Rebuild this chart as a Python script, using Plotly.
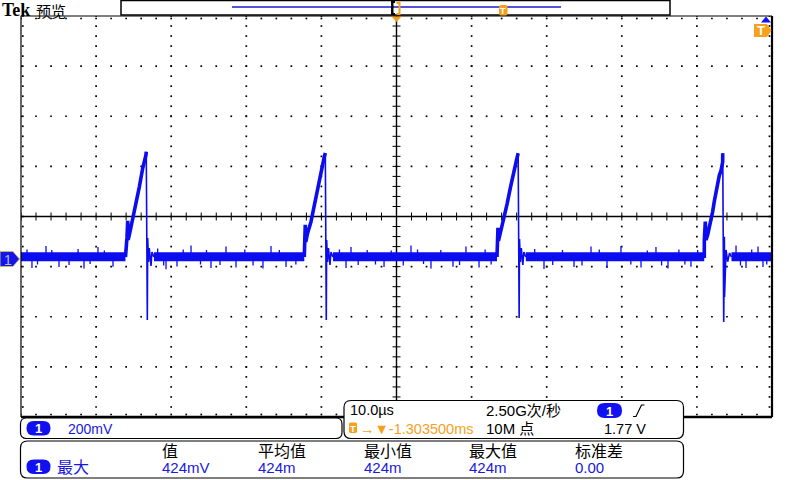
import numpy as np
import plotly.graph_objects as go

TIME_PER_DIV_US = 10.0          # 10.0 µs/div
VOLT_PER_DIV = 0.2              # 200 mV/div
GROUND_OFFSET_DIV = 0.828       # ground marker sits 0.83 div below centre

BASE_LEVEL = 0.005
BAND_WIDTH_V = 0.036
baseline_start = [-50.0, -32.29, -8.46, 17.22, 44.60]
baseline_end = [-36.09, -12.28, 13.38, 40.98, 50.0]

pulse1_t = [-36.09, -36.02, -35.89, -35.79, -35.73, -35.49, -35.13, -34.69, -34.25,
            -33.79, -33.58, -33.36, -33.32, -33.18, -33.13, -33.02, -32.92, -32.69,
            -32.56, -32.29]
pulse1_v = [0.004, 0.064, 0.080, 0.148, 0.072, 0.104, 0.152, 0.219, 0.283,
            0.359, 0.379, 0.411, 0.424, -0.247, 0.080, -0.016, 0.040, -0.032,
            0.024, 0.004]

pulse2_t = [-12.28, -12.21, -12.15, -12.08, -11.83, -11.39, -10.95, -10.49, -10.05,
            -9.83, -9.62, -9.48, -9.35, -9.30, -9.19, -9.06, -8.86, -8.72, -8.46]
pulse2_v = [0.004, 0.072, 0.132, 0.064, 0.100, 0.144, 0.211, 0.279, 0.351,
            0.379, 0.403, 0.419, -0.247, 0.072, -0.016, 0.040, -0.028, 0.024, 0.004]

pulse3_t = [13.38, 13.45, 13.51, 13.58, 13.85, 14.28, 14.72, 15.18, 15.62,
            15.84, 16.06, 16.20, 16.33, 16.38, 16.49, 16.62, 16.82, 16.96, 17.22]
pulse3_v = [0.004, 0.060, 0.120, 0.068, 0.100, 0.148, 0.215, 0.283, 0.351,
            0.379, 0.401, 0.418, -0.239, 0.076, -0.016, 0.040, -0.028, 0.024, 0.004]

pulse4_t = [40.98, 40.99, 41.12, 41.21, 41.43, 41.65, 41.88, 42.10, 42.31, 42.54,
            42.76, 42.98, 43.21, 43.43, 43.44, 43.57, 43.66, 43.68, 43.88, 44.10,
            44.35, 44.60]
pulse4_v = [0.000, 0.072, 0.145, 0.072, 0.092, 0.120, 0.152, 0.185, 0.225, 0.265,
            0.290, 0.329, 0.349, 0.383, 0.418, -0.255, 0.085, -0.155, 0.032, -0.015,
            0.020, 0.004]

# larger noise spikes on the baseline
spike_t = [-48.54, -46.67, -44.94, -41.61, -39.75, -37.75, -30.69, -29.23, -27.36,
           -24.70, -22.70, -21.37, -17.78, -16.71, -14.71, -6.72, -6.06, -1.66,
           1.93, 4.59, 7.52, 9.25, 10.99, 19.64, 23.64, 25.90, 28.03, 29.89,
           32.56, 34.55, 36.15, 39.21, 45.21, 46.54, 48.14, 48.80]
spike_v = [-0.040, 0.048, -0.036, -0.042, 0.044, -0.035, -0.045, -0.034, 0.050,
           -0.040, 0.046, -0.038, -0.042, 0.048, -0.036, -0.040, 0.044, -0.036,
           0.050, -0.042, -0.035, 0.046, -0.038, -0.044, -0.036, 0.046, -0.040, 0.048,
           -0.038, 0.044, -0.042, -0.035, 0.050, -0.040, 0.046, -0.036]
# small jitter ticks on the baseline band
jitter_t = [-49.2, -47.8, -45.9, -43.6, -42.4, -40.8, -38.9, -31.8, -31.0, -28.4,
            -26.1, -25.3, -23.5, -20.2, -19.1, -15.6, -13.4, -7.6, -5.1, -3.9,
            -2.8, -0.7, 0.9, 2.8, 3.6, 5.9, 8.4, 11.8, 12.6, 18.4, 20.8, 22.1,
            24.7, 27.0, 31.2, 33.4, 35.3, 37.6, 38.4, 40.1, 45.8, 47.3, 49.3]
jitter_v = [0.034, -0.026, 0.032, -0.028, 0.036, -0.024, 0.030, 0.038, -0.030, 0.034,
            -0.026, 0.032, -0.028, 0.034, -0.030, 0.032, -0.026, 0.034, -0.028, 0.032,
            -0.026, 0.030, -0.030, 0.034, -0.024, 0.032, -0.028, 0.034, -0.026, 0.036,
            -0.028, 0.032, -0.030, 0.034, -0.026, 0.030, -0.030, 0.034, -0.026, 0.032,
            -0.030, 0.034, -0.026]

ch_scale_label = "200mV"
timebase_label = "10.0µs"
trigger_pos_label = "→▼-1.303500ms"
sample_rate_label = "2.50G次/秒"
record_len_label = "10M 点"
trigger_level_label = "1.77 V"
meas_name = "最大"
meas_headers = ["值", "平均值", "最小值", "最大值", "标准差"]
meas_values = ["424mV", "424m", "424m", "424m", "0.00"]

# ---------------- geometry ----------------
W, H = 800, 480
L, T, PW, PH = 21, 16, 751, 401
BLUE = "#0c0cf0"
TXTBLUE = "#1818e0"
ORANGE = "#f7a01c"
FONT = "Liberation Sans, Noto Sans CJK SC"

center_v = GROUND_OFFSET_DIV * VOLT_PER_DIV
y_lo, y_hi = center_v - 4 * VOLT_PER_DIV, center_v + 4 * VOLT_PER_DIV
x_lo, x_hi = -5 * TIME_PER_DIV_US, 5 * TIME_PER_DIV_US
vpp = PH / (y_hi - y_lo)   # px per volt
tpp = PW / (x_hi - x_lo)   # px per µs


def px(x):
    return (x - L) / PW


def py(y):
    return (T + PH - y) / PH


def path(points, close=True):
    s = "M " + " L ".join(f"{px(x):.5f},{py(y):.5f}" for x, y in points)
    return s + (" Z" if close else "")


def rrect(x0, y0, x1, y1, r):
    P = lambda x, y: f"{px(x):.5f},{py(y):.5f}"
    return (f"M {P(x0+r,y0)} L {P(x1-r,y0)} Q {P(x1,y0)} {P(x1,y0+r)} "
            f"L {P(x1,y1-r)} Q {P(x1,y1)} {P(x1-r,y1)} L {P(x0+r,y1)} "
            f"Q {P(x0,y1)} {P(x0,y1-r)} L {P(x0,y0+r)} Q {P(x0,y0)} {P(x0+r,y0)} Z")


fig = go.Figure()

# ---------------- graticule ----------------
minor_t = np.arange(x_lo, x_hi + 1e-9, TIME_PER_DIV_US / 5)
minor_v = center_v + np.arange(-20, 21) * VOLT_PER_DIV / 5
gx, gy = [], []
for k in range(-4, 5):
    if k == 0:
        continue
    gx += [k * TIME_PER_DIV_US] * len(minor_v)
    gy += list(minor_v)
for j in range(-3, 4):
    if j == 0:
        continue
    gx += list(minor_t)
    gy += [center_v + j * VOLT_PER_DIV] * len(minor_t)
# edge dots
gx += list(minor_t); gy += [y_hi - 2.5 / vpp] * len(minor_t)
gx += list(minor_t); gy += [y_lo + 2.5 / vpp] * len(minor_t)
gx += [x_lo + 1.8 / tpp] * len(minor_v); gy += list(minor_v)
gx += [x_hi - 2.5 / tpp] * len(minor_v); gy += list(minor_v)
fig.add_trace(go.Scatter(x=gx, y=gy, mode="markers", hoverinfo="skip",
                         marker=dict(symbol="square", size=1.7, color="#000",
                                     line=dict(width=0))))

# centre axes with ticks
fig.add_trace(go.Scatter(x=[x_lo, x_hi, None, 0, 0], y=[center_v, center_v, None, y_lo, y_hi],
                         mode="lines", line=dict(color="#000", width=1.4), hoverinfo="skip"))
tx, ty = [], []
for t in minor_t:
    tx += [t, t, None]
    ty += [center_v - 4 / vpp, center_v + 4 / vpp, None]
for v in minor_v:
    tx += [-4 / tpp, 4 / tpp, None]
    ty += [v, v, None]
fig.add_trace(go.Scatter(x=tx, y=ty, mode="lines", line=dict(color="#000", width=1),
                         hoverinfo="skip"))

# ---------------- signal ----------------
bx, by = [], []
for a, b in zip(baseline_start, baseline_end):
    bx += [a, b, None]
    by += [BASE_LEVEL, BASE_LEVEL, None]
fig.add_trace(go.Scatter(x=bx, y=by, mode="lines", hoverinfo="skip",
                         line=dict(color=BLUE, width=BAND_WIDTH_V * vpp)))
sx, sy = [], []
for t, v in zip(spike_t + jitter_t, spike_v + jitter_v):
    sx += [t, t, None]
    sy += [BASE_LEVEL, v, None]
fig.add_trace(go.Scatter(x=sx, y=sy, mode="lines", hoverinfo="skip",
                         line=dict(color=BLUE, width=1.3)))
for pt, pv in [(pulse1_t, pulse1_v), (pulse2_t, pulse2_v), (pulse3_t, pulse3_v),
               (pulse4_t, pulse4_v)]:
    ip = int(np.argmax(pv))
    fig.add_trace(go.Scatter(x=pt[:ip + 1], y=pv[:ip + 1], mode="lines", hoverinfo="skip",
                             line=dict(color=BLUE, width=3.6)))
    fig.add_trace(go.Scatter(x=pt[ip:], y=pv[ip:], mode="lines", hoverinfo="skip",
                             line=dict(color=BLUE, width=1.6)))

shapes = []
ann = []

# plot border
shapes += [
    dict(type="line", xref="paper", yref="paper", x0=0, x1=1, y0=1, y1=1, line=dict(color="#000", width=1.2)),
    dict(type="line", xref="paper", yref="paper", x0=0, x1=0, y0=0, y1=1, line=dict(color="#000", width=1.2)),
    dict(type="line", xref="paper", yref="paper", x0=1, x1=1, y0=0, y1=1, line=dict(color="#000", width=2.2)),
    dict(type="line", xref="paper", yref="paper", x0=0, x1=1, y0=0, y1=0, line=dict(color="#000", width=2.5)),
]

# top bar
shapes.append(dict(type="rect", xref="paper", yref="paper", x0=px(121), x1=px(670), y0=py(15), y1=py(0.5),
                   line=dict(color="#000", width=1.5), fillcolor="#fff"))
shapes.append(dict(type="line", xref="paper", yref="paper", x0=px(232), x1=px(561), y0=py(7), y1=py(7),
                   line=dict(color="#1a1ad0", width=1.5)))
shapes.append(dict(type="path", xref="paper", yref="paper",
                   path=path([(391, 1), (395, 1), (395, 3), (393.5, 3), (393.5, 13), (395, 13), (395, 15), (391, 15)]),
                   fillcolor="#000", line=dict(width=0)))
shapes.append(dict(type="path", xref="paper", yref="paper",
                   path=path([(396.5, 2), (400.5, 2), (400.5, 15), (396.5, 15), (396.5, 13), (398.5, 13), (398.5, 4), (396.5, 4)]),
                   fillcolor=ORANGE, line=dict(width=0)))
shapes.append(dict(type="path", xref="paper", yref="paper", path=rrect(499, 5, 507.5, 15.5, 2),
                   fillcolor=ORANGE, line=dict(width=0)))
ann.append(dict(x=px(503.3), y=py(10.5), text="<b>T</b>", font=dict(family=FONT, size=9, color="#fff")))
# trigger position marker
shapes.append(dict(type="path", xref="paper", yref="paper", path=path([(391.5, 16.5), (401.5, 16.5), (396.5, 22)]),
                   fillcolor=ORANGE, line=dict(width=0)))
# trigger level marker (right)
shapes.append(dict(type="path", xref="paper", yref="paper", path=path([(761, 22.5), (771, 22.5), (766, 16.5)]),
                   fillcolor="#1010f0", line=dict(width=0)))
shapes.append(dict(type="path", xref="paper", yref="paper",
                   path=path([(754, 24), (767, 24), (771.5, 30.5), (767, 37), (754, 37)]),
                   fillcolor=ORANGE, line=dict(width=0)))
ann.append(dict(x=px(760.5), y=py(30.8), text="<b>T</b>", font=dict(family=FONT, size=13, color="#fff")))

# channel ground marker
shapes.append(dict(type="path", xref="paper", yref="paper",
                   path=path([(0, 251.5), (13, 251.5), (19.5, 259), (13, 266.5), (0, 266.5)]),
                   fillcolor="#1515e8", line=dict(color="#c0b878", width=1)))
ann.append(dict(x=px(8), y=py(259.5), text="1", font=dict(family=FONT, size=14, color="#b8b8f4")))

# Tek label
ann.append(dict(x=px(0), y=py(10), xanchor="left", text="<b>Tek</b>",
                font=dict(family="Liberation Serif", size=18, color="#000")))
ann.append(dict(x=px(34), y=py(10.5), xanchor="left", text="预览",
                font=dict(family="Noto Sans CJK SC", size=15, color="#000")))

# bottom panels
shapes.append(dict(type="path", xref="paper", yref="paper", path=rrect(20.5, 418, 342, 438.5, 6),
                   fillcolor="#fff", line=dict(color="#000", width=1.2)))
shapes.append(dict(type="path", xref="paper", yref="paper", path=rrect(344, 400.5, 683.5, 438.5, 7),
                   fillcolor="#fff", line=dict(color="#000", width=1.2)))
shapes.append(dict(type="path", xref="paper", yref="paper", path=rrect(20.5, 441, 683.5, 478, 7),
                   fillcolor="#fff", line=dict(color="#000", width=1.2)))


def badge(x0, y0, x1, y1):
    shapes.append(dict(type="path", xref="paper", yref="paper", path=rrect(x0, y0, x1, y1, (y1 - y0) / 2),
                       fillcolor="#1010f0", line=dict(width=0)))
    ann.append(dict(x=px((x0 + x1) / 2), y=py((y0 + y1) / 2 + 0.5), text="<b>1</b>",
                    font=dict(family=FONT, size=13, color="#fff")))


def text(x, y, s, size, color):
    ann.append(dict(x=px(x), y=py(y), xanchor="left", text=s,
                    font=dict(family=FONT, size=size, color=color)))


badge(26.5, 421, 50.5, 435.5)
text(66, 428.5, ch_scale_label, 14, TXTBLUE)

text(348, 410, timebase_label, 14.5, "#000")
shapes.append(dict(type="path", xref="paper", yref="paper", path=rrect(349, 422.5, 357, 433, 1.5),
                   fillcolor=ORANGE, line=dict(width=0)))
ann.append(dict(x=px(353), y=py(428), text="<b>T</b>", font=dict(family=FONT, size=9.5, color="#fff")))
text(357.5, 428.5, trigger_pos_label, 14.5, ORANGE)
text(484, 410, sample_rate_label, 15, "#000")
text(484, 428.5, record_len_label, 15, "#000")
badge(597, 403, 622, 418)
shapes.append(dict(type="path", xref="paper", yref="paper",
                   path=path([(633, 416.5), (636, 416.5), (641.5, 405), (644.5, 405)], close=False),
                   line=dict(color="#000", width=1.2)))
text(602, 428.5, trigger_level_label, 14.5, "#000")

badge(26.5, 459.5, 50.5, 474)
text(55, 467, meas_name, 16, TXTBLUE)
col_x = [160, 256, 362, 467, 573]
for xx, hdr, val in zip(col_x, meas_headers, meas_values):
    text(xx, 451, hdr, 16, "#000")
    text(xx, 467.5, val, 15, TXTBLUE)

for a in ann:
    a.setdefault("xref", "paper")
    a.setdefault("yref", "paper")
    a.setdefault("showarrow", False)
    a.setdefault("yanchor", "middle")
    a.setdefault("xanchor", "center")

fig.update_layout(
    width=W, height=H, margin=dict(l=L, r=W - L - PW, t=T, b=H - T - PH, pad=0),
    paper_bgcolor="#fff", plot_bgcolor="#fff", showlegend=False,
    xaxis=dict(range=[x_lo, x_hi], showgrid=False, zeroline=False, showticklabels=False,
               showline=False, ticks="", fixedrange=True),
    yaxis=dict(range=[y_lo, y_hi], showgrid=False, zeroline=False, showticklabels=False,
               showline=False, ticks="", fixedrange=True),
    shapes=shapes, annotations=ann,
)
fig.write_html("out.html")
